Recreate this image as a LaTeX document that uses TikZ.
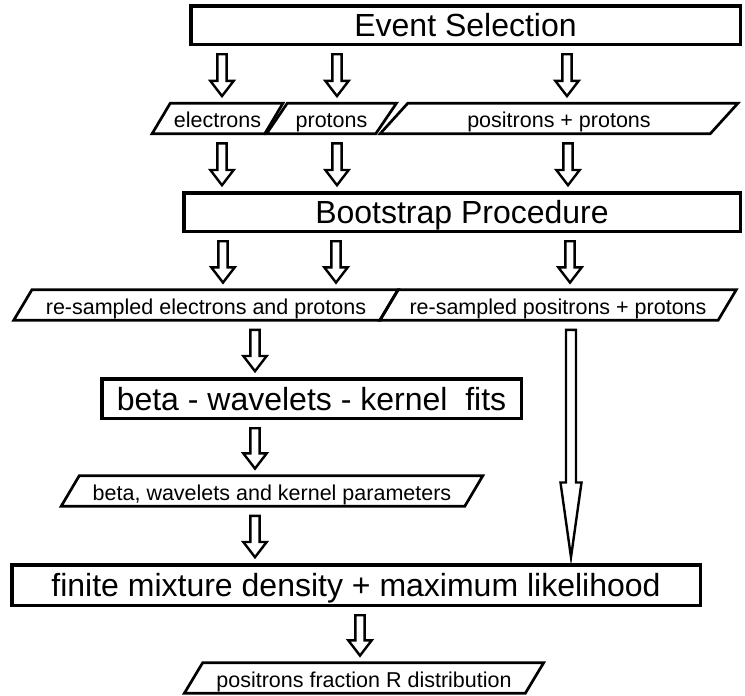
\documentclass[tikz,border=0pt]{standalone}
\usepackage{fontspec}
\setmainfont{Liberation Sans}
\usetikzlibrary{shapes.geometric,shapes.arrows,calc}

\tikzset{
  stage/.style={draw, line width=3.5pt, inner sep=0pt, minimum height=38.5pt,
    text height=23pt, text depth=0pt, font=\fontsize{32}{36}\selectfont},
  data/.style={trapezium, trapezium left angle=47, trapezium right angle=133,
    trapezium stretches=true, draw, line width=2.7pt, inner sep=0pt,
    minimum height=30.5pt, text height=18pt, text depth=0pt,
    font=\fontsize{21.5}{24}\selectfont},
  flowarrow/.style={single arrow, draw, fill=white, line width=2.4pt,
    shape border rotate=270, inner sep=3.45pt,
    single arrow head extend=7pt, single arrow tip angle=75,
    single arrow head indent=0pt},
  longflow/.style={inner sep=3.8pt, single arrow head extend=5.5pt,
    single arrow tip angle=16}
}

% \flow[style]{name}{from}{to}{x}
\newcommand{\flow}[5][]{%
  \path let \p1=(#3.south), \p2=(#4.north) in
    node[flowarrow, #1, anchor=tail, minimum height=\y1-(\y2)-14pt]
      (#2) at (#5pt,\y1-7pt) {};}

\begin{document}
\begin{tikzpicture}[x=1pt,y=-1pt]
  \useasboundingbox (0,0) rectangle (745,696);

  \node[stage, minimum width=549.5pt] (sel) at (465.5,25) {Event Selection};

  \node[data, minimum width=131pt] (ele) at (217.5,118.5) {electrons};
  \node[data, minimum width=130pt] (pro) at (331.5,118.5) {protons};
  \node[data, minimum width=359pt] (pospro) at (559,118.5) {positrons + protons};

  \node[stage, minimum width=556.5pt] (boot) at (462,212) {Bootstrap Procedure};

  \node[data, minimum width=385pt] (rsep) at (206,305) {re-sampled electrons and protons};
  \node[data, minimum width=357pt] (rspos) at (558,305) {re-sampled positrons + protons};

  \node[stage, minimum width=419.5pt, minimum height=39.5pt] (fits) at (311.5,398.5)
    {beta - wavelets - kernel\ \ fits};

  \node[data, minimum width=422pt] (params) at (272,491) {beta, wavelets and kernel parameters};

  \node[stage, minimum width=688.5pt, minimum height=40.5pt] (mix) at (356,585)
    {finite mixture density + maximum likelihood};

  \node[data, minimum width=360pt] (frac) at (364,678) {positrons fraction R distribution};

  \flow{a1}{sel}{ele}{222}
  \flow{a2}{sel}{pro}{337}
  \flow{a3}{sel}{pospro}{567}
  \flow{a4}{ele}{boot}{222}
  \flow{a5}{pro}{boot}{337}
  \flow{a6}{pospro}{boot}{568}
  \flow{a7}{boot}{rsep}{223}
  \flow{a8}{boot}{rsep}{336}
  \flow{a9}{boot}{rspos}{570}
  \flow{a10}{rsep}{fits}{255}
  \flow{a11}{fits}{params}{255}
  \flow{a12}{params}{mix}{255}
  \flow[longflow]{a13}{rspos}{mix}{571}
  \flow{a14}{mix}{frac}{360}
\end{tikzpicture}
\end{document}
